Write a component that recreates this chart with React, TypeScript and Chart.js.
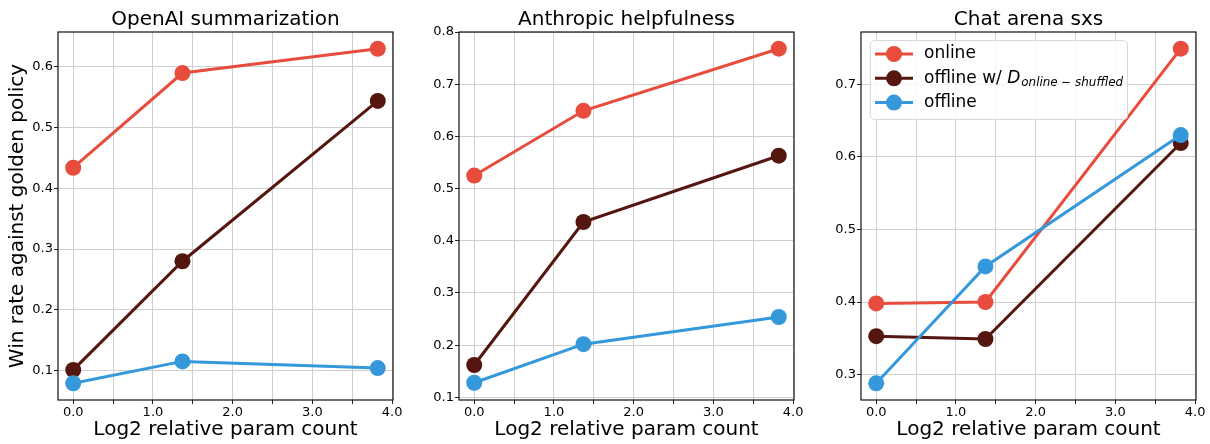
import React, { useEffect, useRef } from "react";
import { Chart, registerables } from "chart.js";

Chart.register(...registerables);

const FONT = "'DejaVu Sans', 'Liberation Sans', sans-serif";

// ---------- data ----------
const xValues = [0, 1.37, 3.82];
const xTicks = [0, 0.5, 1, 1.5, 2, 2.5, 3, 3.5, 4];
const xLabeledTicks = [0, 1, 2, 3, 4];

const seriesNames = ["online", "offline w/ D_{online − shuffled}", "offline"];
const seriesColors = ["#E74C3C", "#561610", "#3498DB"];

const panelTitles = ["OpenAI summarization", "Anthropic helpfulness", "Chat arena sxs"];
const xAxisTitle = "Log2 relative param count";
const yAxisTitle = "Win rate against golden policy";

const openaiOnline = [0.434, 0.59, 0.63];
const openaiShuffled = [0.101, 0.28, 0.544];
const openaiOffline = [0.079, 0.115, 0.104];

const anthropicOnline = [0.525, 0.649, 0.768];
const anthropicShuffled = [0.162, 0.436, 0.563];
const anthropicOffline = [0.128, 0.202, 0.254];

const chatOnline = [0.398, 0.4, 0.749];
const chatShuffled = [0.353, 0.349, 0.619];
const chatOffline = [0.288, 0.449, 0.63];

const openaiYTicks = [0.1, 0.2, 0.3, 0.4, 0.5, 0.6];
const anthropicYTicks = [0.1, 0.2, 0.3, 0.4, 0.5, 0.6, 0.7, 0.8];
const chatYTicks = [0.3, 0.4, 0.5, 0.6, 0.7];

const xLimits = [-0.191, 4.011];
const openaiYLimits = [0.0514, 0.6576];
const anthropicYLimits = [0.095, 0.8];
const chatYLimits = [0.265, 0.772];

// ---------- layout ----------
type PanelSpec = {
  left: number;
  width: number;
  yAxisWidth: number;
  rightPad: number;
  title: string;
  series: number[][];
  yTicks: number[];
  yLimits: number[];
  showYTitle: boolean;
  showLegend: boolean;
};

const panels: PanelSpec[] = [
  {
    left: 0, width: 410, yAxisWidth: 58, rightPad: 17,
    title: panelTitles[0],
    series: [openaiOnline, openaiShuffled, openaiOffline],
    yTicks: openaiYTicks, yLimits: openaiYLimits,
    showYTitle: true, showLegend: false,
  },
  {
    left: 410, width: 400, yAxisWidth: 49, rightPad: 16,
    title: panelTitles[1],
    series: [anthropicOnline, anthropicShuffled, anthropicOffline],
    yTicks: anthropicYTicks, yLimits: anthropicYLimits,
    showYTitle: false, showLegend: false,
  },
  {
    left: 810, width: 400, yAxisWidth: 51, rightPad: 14,
    title: panelTitles[2],
    series: [chatOnline, chatShuffled, chatOffline],
    yTicks: chatYTicks, yLimits: chatYLimits,
    showYTitle: false, showLegend: true,
  },
];

const framePlugin = {
  id: "frame",
  afterDatasetsDraw(chart: any) {
    const { ctx, chartArea: a } = chart;
    ctx.save();
    ctx.strokeStyle = "#111111";
    ctx.lineWidth = 1.2;
    ctx.strokeRect(a.left, a.top, a.right - a.left, a.bottom - a.top);
    ctx.restore();
  },
};

const legendPlugin = {
  id: "mathLegend",
  afterDraw(chart: any) {
    const { ctx, chartArea: a } = chart;
    const bx = a.left + 9;
    const by = a.top + 8;
    const bw = 257;
    const bh = 79;
    ctx.save();
    ctx.beginPath();
    ctx.roundRect(bx + 0.5, by + 0.5, bw, bh, 4);
    ctx.fillStyle = "rgba(255,255,255,0.8)";
    ctx.fill();
    ctx.strokeStyle = "#d8d8d8";
    ctx.lineWidth = 1;
    ctx.stroke();

    seriesNames.forEach((name, i) => {
      const cy = by + 14 + i * 24.3;
      const color = seriesColors[i];
      ctx.strokeStyle = color;
      ctx.lineWidth = 3;
      ctx.beginPath();
      ctx.moveTo(bx + 5, cy);
      ctx.lineTo(bx + 43, cy);
      ctx.stroke();
      ctx.fillStyle = color;
      ctx.beginPath();
      ctx.arc(bx + 24, cy, 8, 0, Math.PI * 2);
      ctx.fill();

      ctx.fillStyle = "#000";
      ctx.textBaseline = "middle";
      ctx.textAlign = "left";
      let tx = bx + 54;
      const m = name.match(/^(.*?)(\w)_\{(.*)\}$/);
      if (m) {
        ctx.font = `17px ${FONT}`;
        ctx.fillText(m[1], tx, cy);
        tx += ctx.measureText(m[1]).width;
        ctx.font = `italic 17px ${FONT}`;
        ctx.fillText(m[2], tx, cy);
        tx += ctx.measureText(m[2]).width + 1;
        ctx.font = `italic 11.9px ${FONT}`;
        ctx.fillText(m[3], tx, cy + 5);
      } else {
        ctx.font = `17px ${FONT}`;
        ctx.fillText(name, tx, cy);
      }
    });
    ctx.restore();
  },
};

function Panel({ spec }: { spec: PanelSpec }) {
  const ref = useRef<HTMLCanvasElement | null>(null);
  useEffect(() => {
    if (!ref.current) return;
    const near = (arr: number[], v: number) => arr.some((t) => Math.abs(t - v) < 1e-9);
    const chart = new Chart(ref.current, {
      type: "line",
      data: {
        datasets: spec.series.map((vals, i) => ({
          label: seriesNames[i],
          data: xValues.map((x, j) => ({ x, y: vals[j] })),
          borderColor: seriesColors[i],
          backgroundColor: seriesColors[i],
          pointBackgroundColor: seriesColors[i],
          pointBorderColor: seriesColors[i],
          pointBorderWidth: 0,
          pointRadius: 8,
          pointHoverRadius: 8,
          borderWidth: 3,
          tension: 0,
          fill: false,
          order: 2 - i,
          clip: false as any,
        })),
      },
      options: {
        responsive: false,
        animation: false,
        devicePixelRatio: 1,
        events: [],
        layout: { padding: { left: 0, right: spec.rightPad, top: 0, bottom: 0 } },
        plugins: {
          legend: { display: false },
          tooltip: { enabled: false },
          title: {
            display: true,
            text: spec.title,
            fullSize: false,
            color: "#000",
            font: { family: FONT, size: 20, weight: "normal", lineHeight: 1.2 },
            padding: { top: 8, bottom: 0 },
          },
        },
        scales: {
          x: {
            type: "linear",
            min: xLimits[0],
            max: xLimits[1],
            afterBuildTicks: (s: any) => {
              s.ticks = xTicks.map((v) => ({ value: v }));
            },
            afterFit: (s: any) => {
              s.height = 44;
            },
            ticks: {
              autoSkip: false,
              maxRotation: 0,
              padding: 1,
              color: "#000",
              font: { family: FONT, size: 13 },
              callback: (v: any) => (near(xLabeledTicks, Number(v)) ? Number(v).toFixed(1) : ""),
            },
            grid: {
              color: "#cfcfcf",
              lineWidth: 1,
              drawTicks: true,
              tickLength: 4,
              tickColor: "#222",
            },
            border: { display: false },
            title: {
              display: true,
              text: xAxisTitle,
              color: "#000",
              font: { family: FONT, size: 20, lineHeight: 1.2 },
              padding: { top: 0, bottom: 2 },
            },
          },
          y: {
            type: "linear",
            min: spec.yLimits[0],
            max: spec.yLimits[1],
            afterBuildTicks: (s: any) => {
              s.ticks = spec.yTicks.map((v) => ({ value: v }));
            },
            afterFit: (s: any) => {
              s.width = spec.yAxisWidth;
            },
            ticks: {
              autoSkip: false,
              padding: 1,
              color: "#000",
              font: { family: FONT, size: 13 },
              callback: (v: any) => Number(v).toFixed(1),
            },
            grid: {
              color: "#cfcfcf",
              lineWidth: 1,
              drawTicks: true,
              tickLength: 4,
              tickColor: "#222",
            },
            border: { display: false },
            title: {
              display: spec.showYTitle,
              text: yAxisTitle,
              color: "#000",
              font: { family: FONT, size: 20, lineHeight: 1.2 },
              padding: { top: 6, bottom: 0 },
            },
          },
        },
      } as any,
      plugins: spec.showLegend ? [framePlugin, legendPlugin] : [framePlugin],
    });
    return () => chart.destroy();
  }, [spec]);

  return (
    <canvas
      ref={ref}
      width={spec.width}
      height={444}
      style={{ position: "absolute", left: spec.left, top: 0, width: spec.width, height: 444, display: "block" }}
    />
  );
}

export default function App() {
  return (
    <div style={{ position: "absolute", left: 0, top: 0, width: 1210, height: 444, background: "#fff" }}>
      {panels.map((p, i) => (
        <Panel key={i} spec={p} />
      ))}
    </div>
  );
}
